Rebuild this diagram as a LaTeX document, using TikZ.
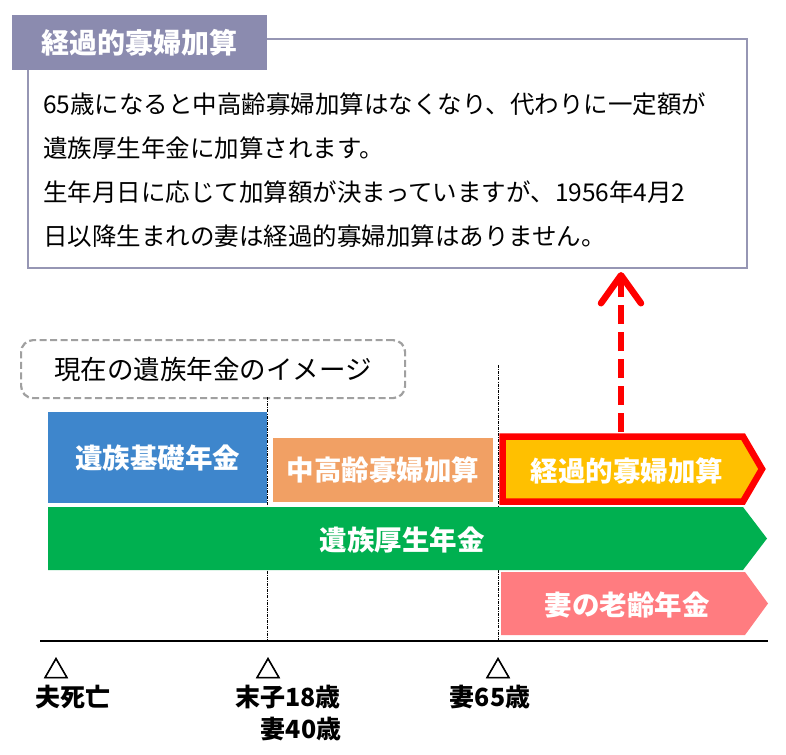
\documentclass[tikz,border=0pt]{standalone}
\usepackage{fontspec}
\setmainfont{Noto Sans CJK JP}
\newfontfamily\markfont[FakeBold=2.5]{Noto Sans CJK JP}
\usetikzlibrary{arrows.meta}
\definecolor{tabcol}{RGB}{139,139,175}
\definecolor{boxcol}{RGB}{150,150,180}
\definecolor{bluecol}{RGB}{62,134,204}
\definecolor{orangecol}{RGB}{241,160,100}
\definecolor{yellowcol}{RGB}{255,192,0}
\definecolor{redcol}{RGB}{255,0,0}
\definecolor{greencol}{RGB}{0,176,80}
\definecolor{pinkcol}{RGB}{255,124,128}
\definecolor{graycol}{RGB}{160,160,160}
\tikzset{
  bodytext/.style={anchor=west,inner sep=0pt,font=\fontsize{24.5}{29}\selectfont},
  bartext/.style={inner sep=0pt,text=white,font=\fontsize{27.5}{32}\selectfont\bfseries},
  bar/.style={anchor=north west,inner sep=0pt},
  vline/.style={black,line width=0.7pt,dash pattern=on 3pt off 1.2pt on 0.8pt off 1.2pt},
  marker/.style={inner sep=0pt,font=\markfont\fontsize{25}{30}\selectfont},
  lbl/.style={inner sep=0pt,font=\fontsize{25}{30}\selectfont\bfseries},
}
\begin{document}
\begin{tikzpicture}[x=1pt,y=-1pt]
\useasboundingbox (0,0) rectangle (786,754);
\fill[white] (0,0) rectangle (786,754);

% explanation box
\node[draw=boxcol,line width=2pt,minimum width=719pt,minimum height=229pt,anchor=north west,inner sep=0pt] (mainbox) at (27,38) {};
\node[fill=tabcol,minimum width=255pt,minimum height=55pt,anchor=north west,inner sep=0pt,
      text=white,font=\fontsize{28}{33}\selectfont\bfseries] (tab) at (12,15) {経過的寡婦加算};
\node[bodytext] (l1) at (43,104) {65歳になると中高齢寡婦加算はなくなり、代わりに一定額が};
\node[bodytext] (l2) at (43,148) {遺族厚生年金に加算されます。};
\node[bodytext] (l3) at (43,192) {生年月日に応じて加算額が決まっていますが、1956年4月2};
\node[bodytext] (l4) at (43,236) {日以降生まれの妻は経過的寡婦加算はありません。};

% dashed title box
\node[draw=graycol,line width=2.2pt,dash pattern=on 7pt off 3.5pt,rounded corners=12pt,
      minimum width=384pt,minimum height=58pt,anchor=north west,inner sep=0pt,
      font=\fontsize{26.5}{31}\selectfont] (image) at (20,339) {現在の遺族年金のイメージ};

% dotted guides
\coordinate (g1t) at (267,397);
\coordinate (g1b) at (267,641);
\coordinate (g2t) at (498,365);
\coordinate (g2b) at (498,641);
\draw[vline] (g1t) -- (g1b);
\draw[vline] (g2t) -- (g2b);

% bars
\node[bar,fill=bluecol,minimum width=219pt,minimum height=91pt,
      text=white,font=\fontsize{27.5}{32}\selectfont\bfseries] (kiso) at (48,412) {遺族基礎年金};
\node[bar,fill=orangecol,minimum width=220pt,minimum height=64pt,
      text=white,font=\fontsize{27.5}{32}\selectfont\bfseries] (chuko) at (273,438) {中高齢寡婦加算};

\filldraw[fill=yellowcol,draw=redcol,line width=6.5pt,line join=miter]
  (502.5,436.5) -- (743,436.5) -- (762,469) -- (743,501.5) -- (502.5,501.5) -- cycle;
\node[bartext] (keika) at (627,471) {経過的寡婦加算};

\fill[greencol] (48,507) -- (743,507) -- (767,538.5) -- (743,570) -- (48,570) -- cycle;
\node[bartext] (kosei) at (402,540) {遺族厚生年金};

\fill[pinkcol] (501,572) -- (745,572) -- (768,603.5) -- (745,635) -- (501,635) -- cycle;
\node[bartext] (rorei) at (627,605) {妻の老齢年金};

% red dashed arrow
\coordinate (arrB) at (621,432);
\coordinate (arrT) at (621,272);
\draw[redcol,line width=6.5pt,dash pattern=on 19pt off 8pt,
      -{Straight Barb[length=28pt,width=40pt,round]}] (arrB) -- (arrT);

% timeline
\coordinate (tl) at (40,641);
\coordinate (tr) at (768,641);
\draw[black,line width=1.5pt] (tl) -- (tr);

\node[marker] (m1) at (56,668) {△};
\node[marker] (m2) at (268,668) {△};
\node[marker] (m3) at (498,668) {△};
\node[lbl] (t1) at (72.5,697) {夫死亡};
\node[lbl] (t2) at (288,697) {末子18歳};
\node[lbl] (t3) at (301,729) {妻40歳};
\node[lbl] (t4) at (490,697) {妻65歳};
\end{tikzpicture}
\end{document}
